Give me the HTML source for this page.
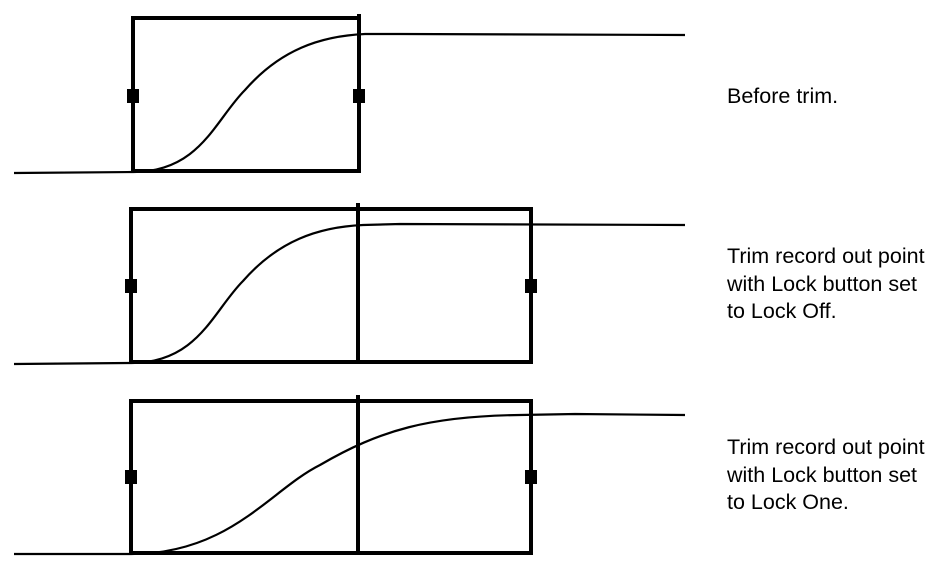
<!DOCTYPE html>
<html><head><style>
body{margin:0;background:#fff;width:945px;height:570px;overflow:hidden}
.t{position:absolute;left:727px;font-family:"Liberation Sans",sans-serif;font-size:21.5px;line-height:27.5px;color:#000}
</style></head><body>
<svg width="945" height="570" style="position:absolute;left:0;top:0">
<g fill="none" stroke="#000" stroke-width="4">
<rect x="133" y="18" width="226" height="153"/>
<line x1="359" y1="14" x2="359" y2="171"/>
<rect x="131" y="209" width="400" height="153"/>
<line x1="358" y1="203" x2="358" y2="362"/>
<rect x="131" y="401" width="400" height="152"/>
<line x1="358" y1="395" x2="358" y2="553"/>
</g>
<g fill="none" stroke="#000" stroke-width="2.2">
<path d="M14 173 L133 172 C200 172 215 120 245 90 C280 50 320 36 365 34 L400 34 L685 35"/>
<path d="M14 364 L131 363 C198 363 213 311 243 281 C278 241 318 227 363 225 L400 224 L685 225"/>
<path d="M14 554 L131 554 C230 554 270 490 320 465 C380 430 430 416 520 415 L575 414 L685 415"/>
</g>
<g fill="#000">
<rect x="127" y="89" width="12" height="14"/><rect x="353" y="89" width="12" height="14"/>
<rect x="125" y="279" width="12" height="14"/><rect x="525" y="279" width="12" height="14"/>
<rect x="125" y="470" width="12" height="14"/><rect x="525" y="470" width="12" height="14"/>
</g>
</svg>
<div class="t" style="top:83px">Before trim.</div>
<div class="t" style="top:243px">Trim record out point<br>with Lock button set<br>to Lock Off.</div>
<div class="t" style="top:434px">Trim record out point<br>with Lock button set<br>to Lock One.</div>
</body></html>
